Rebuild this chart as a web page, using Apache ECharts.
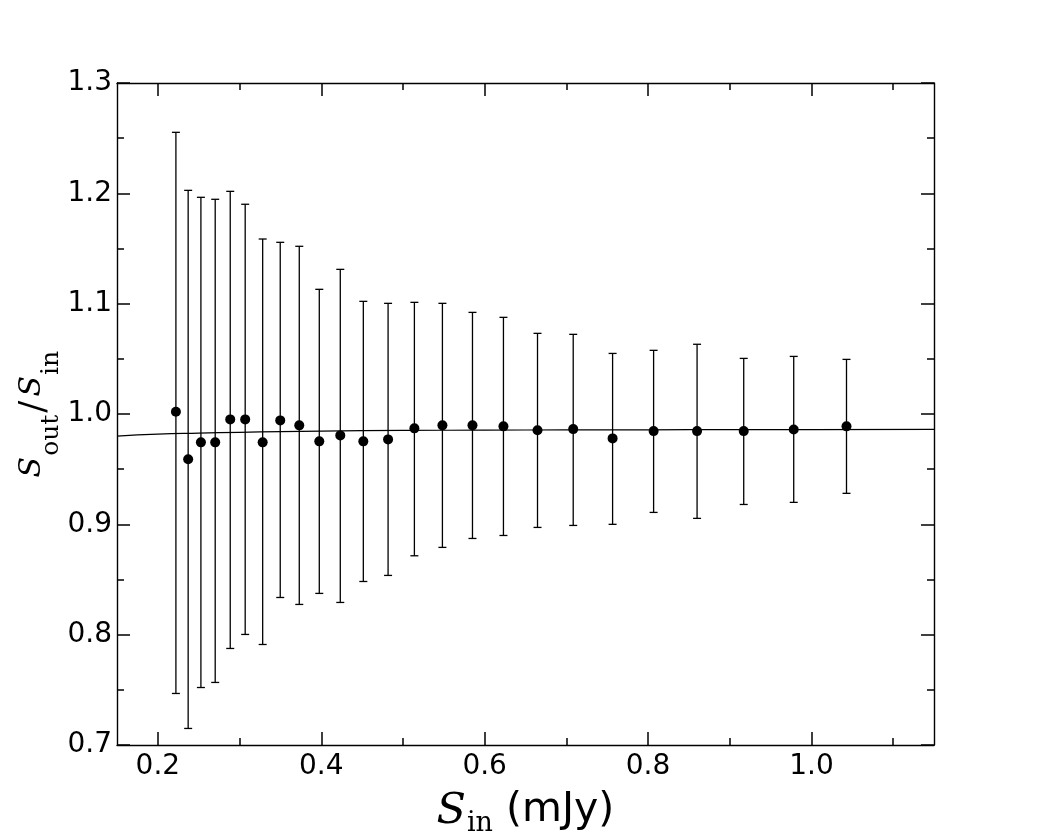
<!DOCTYPE html>
<html>
<head>
<meta charset="utf-8">
<script src="https://cdn.jsdelivr.net/npm/echarts@6/dist/echarts.min.js"></script>
<style>
html,body{margin:0;padding:0;background:#fff;}
#chart{width:1037px;height:838px;}
</style>
</head>
<body>
<div id="chart"></div>
<script>
// Input flux (mJy)
var sIn = [0.2221,0.2371,0.2527,0.2702,0.2886,0.3069,0.3283,0.3498,0.3731,0.3976,0.4233,0.4515,0.4818,0.5140,0.5483,0.5851,0.6230,0.6647,0.7084,0.7566,0.8068,0.8600,0.9171,0.9783,1.0429];
// Ratio S_out/S_in
var ratio = [1.002,0.959,0.9743,0.9743,0.9951,0.9951,0.9743,0.9942,0.9897,0.9752,0.9806,0.9752,0.977,0.987,0.9897,0.9897,0.9888,0.9852,0.9863,0.9779,0.9845,0.9845,0.9845,0.986,0.9888];
// Error bar lower / upper ends
var errLow = [0.7467,0.715,0.7521,0.7567,0.7875,0.8002,0.7911,0.8337,0.8274,0.8374,0.8292,0.8482,0.8537,0.8715,0.8791,0.8872,0.8899,0.8972,0.899,0.9,0.9108,0.9054,0.918,0.9199,0.9281];
var errHigh = [1.2553,1.2027,1.1964,1.1946,1.2018,1.1901,1.1586,1.1556,1.152,1.113,1.1311,1.1021,1.1003,1.1012,1.1003,1.0921,1.0876,1.0731,1.0722,1.0549,1.0577,1.0632,1.0504,1.0522,1.0495];
// Fitted curve
var fitX = [0.15,0.2,0.25,0.3,0.35,0.4,0.5,0.6,0.7,0.8,0.9,1.0,1.15];
var fitY = [0.9800,0.9818,0.9827,0.9834,0.9840,0.9845,0.9851,0.9854,0.9856,0.9857,0.9858,0.9859,0.9860];
// Tick values
var xMajorTicks = [0.2,0.4,0.6,0.8,1.0];
var xMinorTicks = [0.3,0.5,0.7,0.9,1.1];

var chart = echarts.init(document.getElementById('chart'), null, {renderer:'canvas'});

var pts = sIn.map(function(x,i){return [x, ratio[i]];});
var errs = sIn.map(function(x,i){return [x, errLow[i], errHigh[i]];});
var fit = fitX.map(function(x,i){return [x, fitY[i]];});

var XMIN = 0.15, XMAX = 1.15;
var lineStyle = {color:'#000', width:1.4};
var font = 'DejaVu Sans';

function xAx(pos, ticks, len, showLine, showLabel){
  return {
    type:'value', position:pos, min:XMIN, max:XMAX,
    axisLine:{show:showLine, lineStyle:lineStyle, onZero:false},
    axisTick:{show:true, inside:true, length:len, customValues:ticks, lineStyle:{color:'#000', width:1.5}},
    axisLabel:{show:showLabel, customValues:ticks, color:'#000', fontFamily:font, fontSize:28, margin:8,
      formatter:function(v){return v.toFixed(1);}},
    splitLine:{show:false}
  };
}
function yAx(pos, showLabel){
  return {
    type:'value', position:pos, min:0.7, max:1.3, interval:0.1,
    axisLine:{show:true, lineStyle:lineStyle, onZero:false},
    axisTick:{show:true, inside:true, length:13, lineStyle:{color:'#000', width:1.5}},
    minorTick:{show:true, splitNumber:2, length:7, lineStyle:{color:'#000', width:1.5}},
    axisLabel:{show:showLabel, color:'#000', fontFamily:font, fontSize:28, margin:5,
      formatter:function(v){return v.toFixed(1);}},
    splitLine:{show:false}, minorSplitLine:{show:false}
  };
}

var xa0 = xAx('bottom', xMajorTicks, 13, true, true);
xa0.name = '{s|S}{sub|in}{t| (mJy)}{gap| }';
xa0.nameLocation = 'middle';
xa0.nameGap = 45;
xa0.nameMoveOverlap = false;
xa0.nameTextStyle = {
  rich:{
    s:{fontFamily:'DejaVu Serif', fontStyle:'italic', fontSize:43, lineHeight:42, verticalAlign:'top', padding:[0,1,0,0], color:'#000'},
    sub:{fontFamily:'DejaVu Serif', fontSize:27, lineHeight:27, verticalAlign:'bottom', color:'#000'},
    t:{fontFamily:font, fontSize:41, lineHeight:42, verticalAlign:'top', color:'#000'},
    gap:{fontSize:1, lineHeight:47, verticalAlign:'top'}
  }
};

var ya0 = yAx('left', true);
ya0.name = '{s|S}{sub|out}{sl|/}{s|S}{sub|in}{gap| }';
ya0.nameLocation = 'middle';
ya0.nameRotate = 90;
ya0.nameGap = 53;
ya0.nameMoveOverlap = false;
ya0.nameTextStyle = {
  rich:{
    s:{fontFamily:'DejaVu Serif', fontStyle:'italic', fontSize:30, lineHeight:30, verticalAlign:'top', padding:[0,1,0,0], color:'#000'},
    sub:{fontFamily:'DejaVu Serif', fontSize:25, lineHeight:25, verticalAlign:'bottom', color:'#000'},
    sl:{fontFamily:'DejaVu Serif', fontSize:36, lineHeight:30, verticalAlign:'top', padding:[0,4,0,2], color:'#000'},
    gap:{fontSize:1, lineHeight:47, verticalAlign:'top'}
  }
};

var option = {
  backgroundColor:'#fff',
  animation:false,
  grid:{left:117, right:103, top:83, bottom:93, containLabel:false, outerBoundsMode:'none'},
  xAxis:[
    xa0,
    xAx('bottom', xMinorTicks, 7, false, false),
    xAx('top', xMajorTicks, 13, true, false),
    xAx('top', xMinorTicks, 7, false, false)
  ],
  yAxis:[ ya0, yAx('right', false) ],
  series:[
    {
      type:'line', data:fit, smooth:true, showSymbol:false, symbol:'none',
      lineStyle:{color:'#000', width:1.2}, z:2, clip:true
    },
    {
      type:'custom', data:errs, z:3,
      encode:{x:0, y:[1,2]},
      renderItem:function(params, api){
        var x = api.value(0);
        var lo = api.coord([x, api.value(1)]);
        var hi = api.coord([x, api.value(2)]);
        var cw = 4;
        var st = {stroke:'#000', lineWidth:1.3};
        return {type:'group', children:[
          {type:'line', shape:{x1:lo[0], y1:lo[1], x2:hi[0], y2:hi[1]}, style:st},
          {type:'line', shape:{x1:lo[0]-cw, y1:lo[1], x2:lo[0]+cw, y2:lo[1]}, style:st},
          {type:'line', shape:{x1:hi[0]-cw, y1:hi[1], x2:hi[0]+cw, y2:hi[1]}, style:st}
        ]};
      }
    },
    {
      type:'scatter', data:pts, symbol:'circle', symbolSize:10,
      itemStyle:{color:'#000', opacity:1}, z:4
    }
  ]
};
chart.setOption(option);
</script>
</body>
</html>
